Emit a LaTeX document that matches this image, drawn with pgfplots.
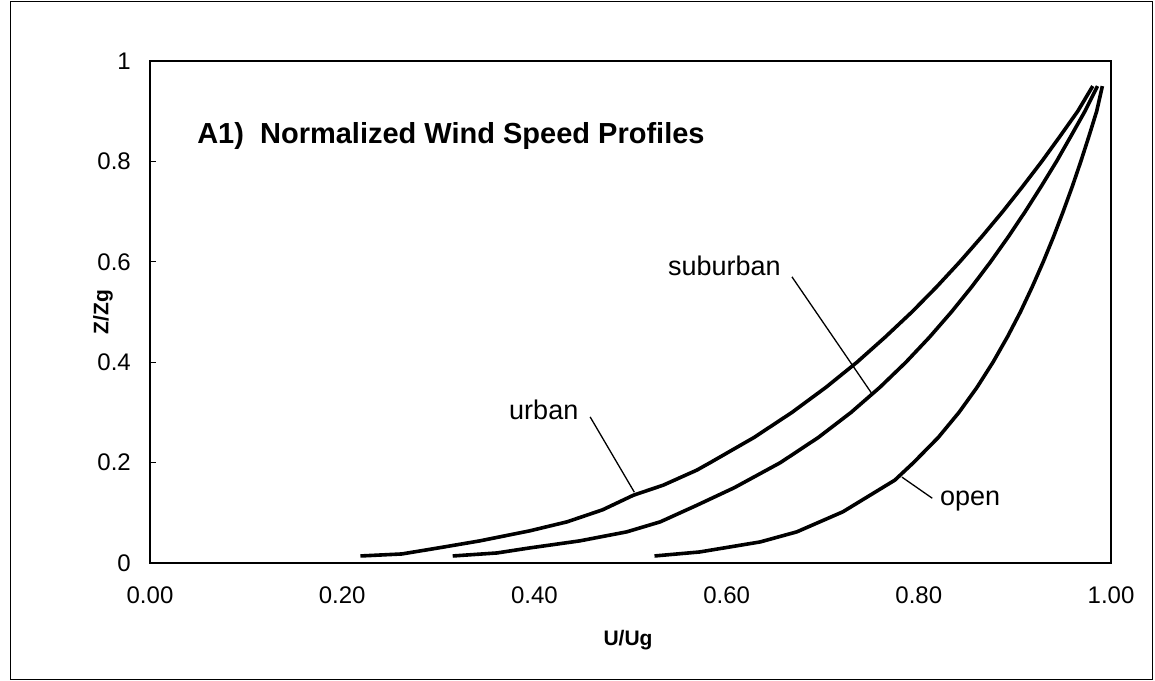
\documentclass[border=0pt]{standalone}
\usepackage{fontspec}
\setmainfont{Liberation Sans}
\usepackage{pgfplots}
\pgfplotsset{compat=1.18}
\begin{document}
\begin{tikzpicture}[x=1pt,y=1pt]
\path[use as bounding box] (0,0) rectangle (1155,680);
\draw[line width=1pt] (10,1) rectangle (1152,678);
\begin{axis}[
  at={(150pt,117pt)}, anchor=south west,
  width=961pt, height=502pt, scale only axis,
  xmin=0, xmax=1, ymin=0, ymax=1,
  xtick={0,0.2,0.4,0.6,0.8,1},
  ytick={0,0.2,0.4,0.6,0.8,1},
  ytick pos=left,
  axis line style={line width=1.5pt},
  tick align=inside, major tick length=6pt,
  ytick style={line width=1.2pt, black},
  xtick style={draw=none},
  /pgf/number format/assume math mode=true,
  xticklabel style={/pgf/number format/.cd, fixed, fixed zerofill, precision=2, /tikz/.cd,
     font=\fontsize{24}{27}\selectfont, inner sep=0pt, yshift=-24pt},
  yticklabel style={/pgf/number format/.cd, fixed, precision=1, /tikz/.cd,
     font=\fontsize{24}{27}\selectfont, inner sep=0pt, xshift=-19pt},
  clip=false,
]
\addplot[black, line width=3.6pt, line join=round] coordinates {
(0.219,0.014) (0.262,0.018) (0.300,0.030) (0.343,0.044) (0.395,0.064)
(0.434,0.082) (0.471,0.106) (0.503,0.135) (0.534,0.155) (0.569,0.185)
(0.583,0.20) (0.6285,0.25) (0.668,0.30) (0.7034,0.35) (0.7357,0.40)
(0.765,0.45) (0.7928,0.50) (0.8185,0.55) (0.8427,0.60) (0.8655,0.65)
(0.8873,0.70) (0.908,0.75) (0.928,0.80) (0.9469,0.85) (0.9654,0.90) (0.981,0.95)
};
\addplot[black, line width=3.6pt, line join=round] coordinates {
(0.315,0.014) (0.361,0.020) (0.395,0.030) (0.447,0.044) (0.496,0.062)
(0.531,0.082) (0.569,0.115) (0.608,0.15) (0.656,0.20) (0.6954,0.25)
(0.7295,0.30) (0.7595,0.35) (0.7866,0.40) (0.8112,0.45) (0.8339,0.50)
(0.855,0.55) (0.8747,0.60) (0.8932,0.65) (0.9107,0.70) (0.9273,0.75)
(0.9433,0.80) (0.9582,0.85) (0.9729,0.90) (0.9860,0.95)
};
\addplot[black, line width=3.6pt, line join=round] coordinates {
(0.525,0.014) (0.572,0.022) (0.635,0.042) (0.673,0.062) (0.721,0.102)
(0.775,0.165) (0.7945,0.20) (0.8202,0.25) (0.8418,0.30) (0.8606,0.35)
(0.8772,0.40) (0.8921,0.45) (0.9057,0.50) (0.918,0.55) (0.9295,0.60)
(0.9402,0.65) (0.9502,0.70) (0.9597,0.75) (0.9686,0.80) (0.977,0.85)
(0.9851,0.90) (0.991,0.95)
};
\node[anchor=base west, inner sep=0pt, font=\bfseries\fontsize{29}{32}\selectfont] at (axis cs:0.049,0.835) {A1)~~Normalized Wind Speed Profiles};
\node[anchor=base west, inner sep=0pt, font=\fontsize{27}{30}\selectfont] at (axis cs:0.539,0.572) {suburban};
\draw[line width=1.3pt] (axis cs:0.668,0.570) -- (axis cs:0.752,0.335);
\node[anchor=base west, inner sep=0pt, font=\fontsize{27}{30}\selectfont] at (axis cs:0.3736,0.285) {urban};
\draw[line width=1.3pt] (axis cs:0.458,0.291) -- (axis cs:0.504,0.141);
\node[anchor=base west, inner sep=0pt, font=\fontsize{27}{30}\selectfont] at (axis cs:0.822,0.1155) {open};
\draw[line width=1.3pt] (axis cs:0.814,0.129) -- (axis cs:0.7825,0.171);
\end{axis}
\node[rotate=90, font=\bfseries\fontsize{21}{24}\selectfont] at (103,368) {Z/Zg};
\node[font=\bfseries\fontsize{21}{24}\selectfont] at (628,40) {U/Ug};
\end{tikzpicture}
\end{document}
